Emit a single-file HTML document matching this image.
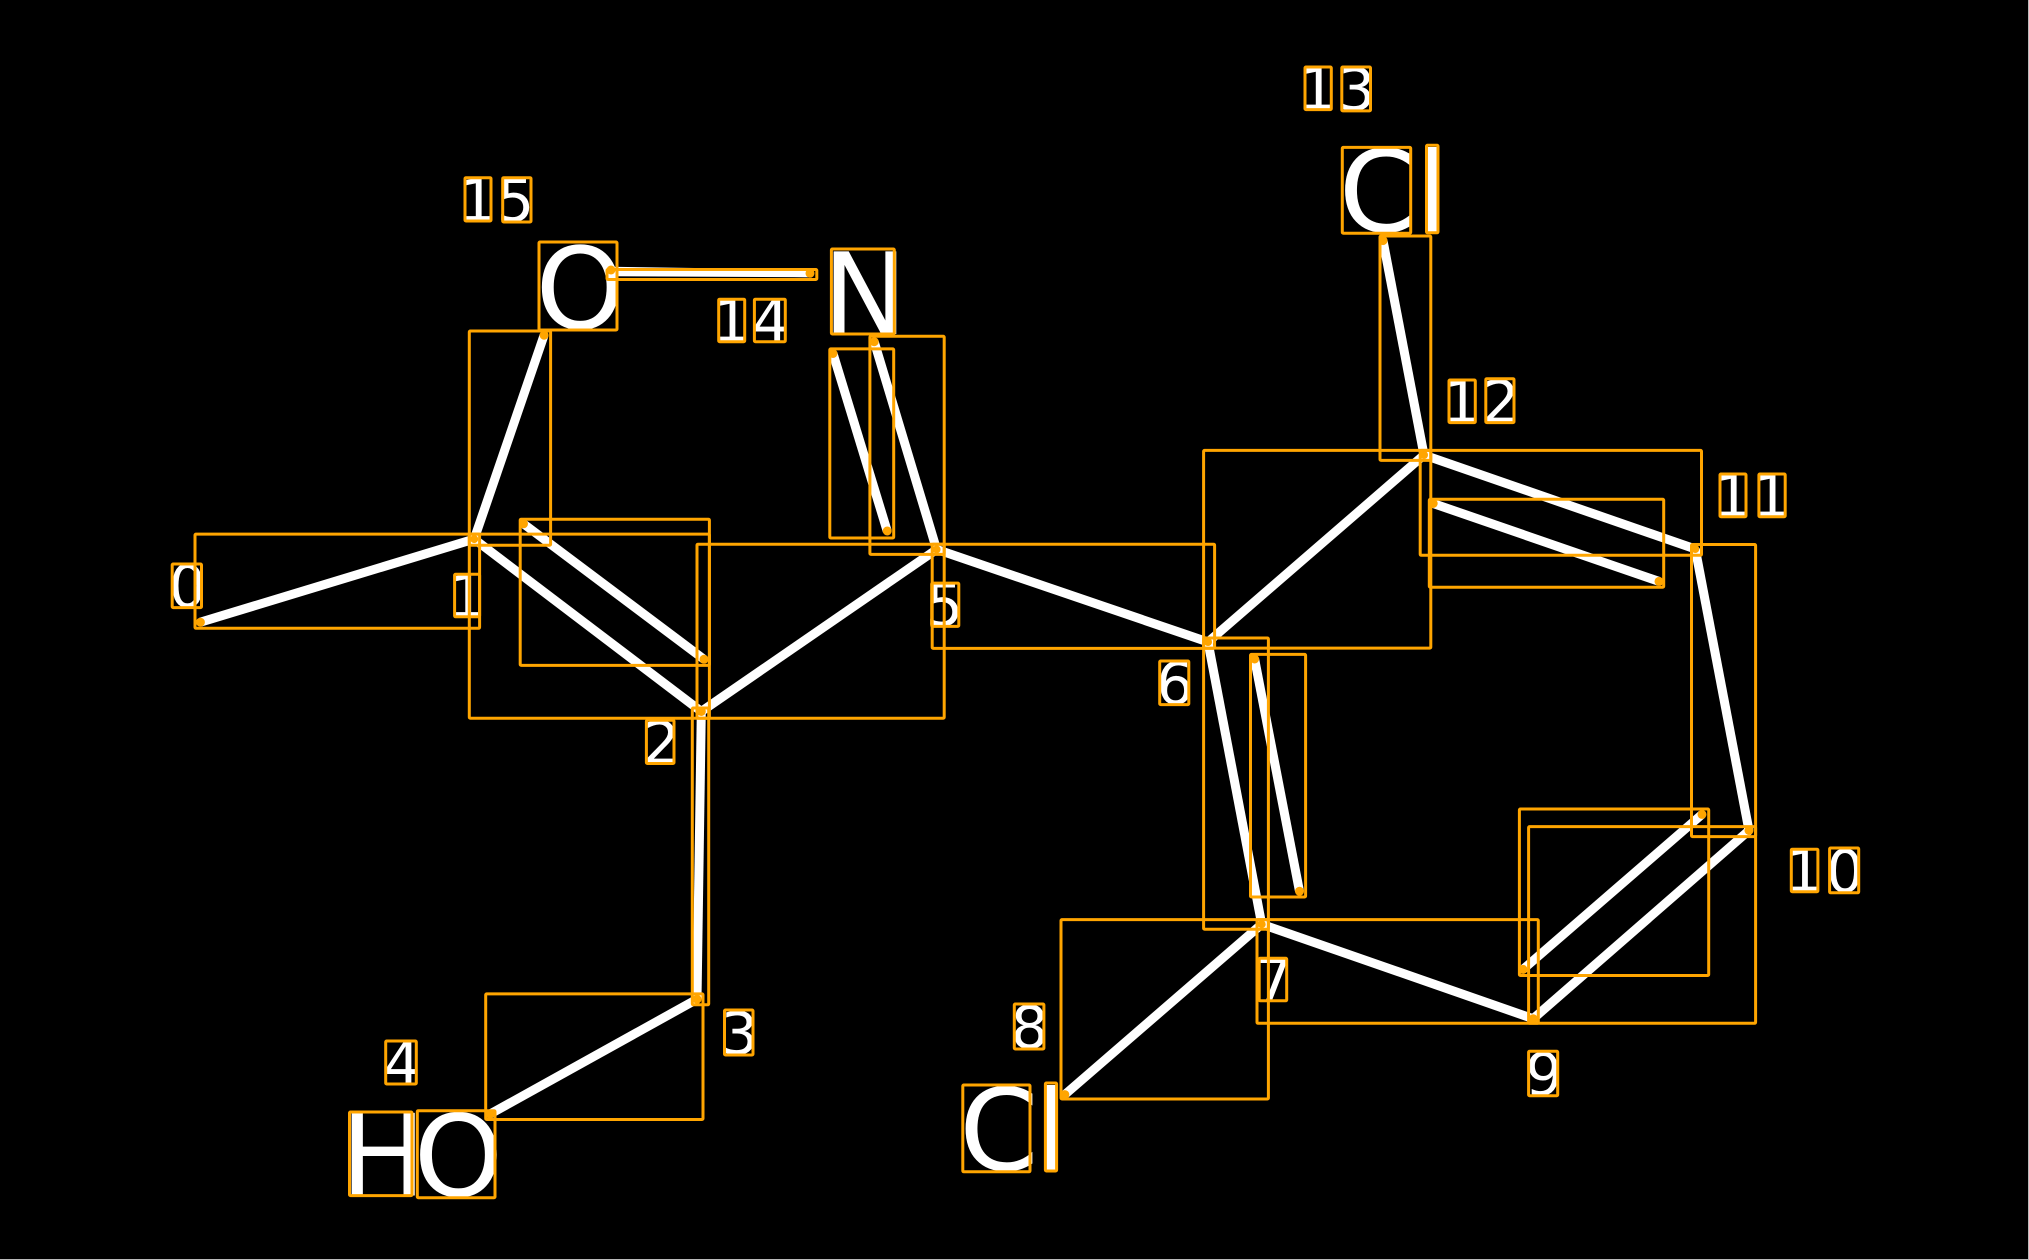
<!DOCTYPE html>
<html><head><meta charset="utf-8"><style>
html,body{margin:0;padding:0;background:#000}
svg{display:block}
text{font-family:"DejaVu Sans",sans-serif;fill:#fff}
.d{font-size:59px}.b{font-size:113.5px}
.w line{stroke:#fff;stroke-width:9}
.w line.t{stroke-width:7.5}
.r rect{fill:none;stroke:#FFA500;stroke-width:3;stroke-linejoin:round}
.c circle{fill:#FFA500}
</style></head><body>
<svg width="2029" height="1260" viewBox="0 0 2029 1260" xmlns="http://www.w3.org/2000/svg">
<rect width="2029" height="1260" fill="#000"/>
<path d="M2028.5 0V1259.5H0" fill="none" stroke="#bbb" stroke-width="1"/>
<g class="w">
<line x1="200.4" y1="622.2" x2="474.2" y2="539.1"/>
<line x1="474.2" y1="539.1" x2="701.3" y2="711.5"/>
<line x1="523.5" y1="523.8" x2="704" y2="659.3"/>
<line x1="474.2" y1="539.1" x2="544.1" y2="335.2"/>
<line x1="701.3" y1="711.5" x2="697" y2="999.2"/>
<line x1="697" y1="999.2" x2="489.8" y2="1114.2"/>
<line x1="701.3" y1="711.5" x2="936.6" y2="549.4"/>
<line x1="936.6" y1="549.4" x2="874.2" y2="341.7"/>
<line x1="887.2" y1="531" x2="833" y2="353.5"/>
<line x1="936.6" y1="549.4" x2="1208" y2="642"/>
<line class="t" x1="611" y1="270.5" x2="810" y2="273.5"/>
<line class="t" x1="611" y1="272.5" x2="810" y2="273.5"/>
<line x1="1208" y1="642" x2="1424" y2="455"/>
<line x1="1424" y1="455" x2="1383" y2="240.6"/>
<line x1="1424" y1="455" x2="1695.3" y2="549"/>
<line x1="1433.2" y1="503.5" x2="1659" y2="581.4"/>
<line x1="1695.3" y1="549" x2="1749" y2="830.5"/>
<line x1="1749" y1="830.5" x2="1533.2" y2="1018.7"/>
<line x1="1702" y1="814.4" x2="1523" y2="969.4"/>
<line x1="1533.2" y1="1018.7" x2="1261.7" y2="924.2"/>
<line x1="1261.7" y1="924.2" x2="1208" y2="642"/>
<line x1="1254.6" y1="659" x2="1299.5" y2="891.3"/>
<line x1="1261.7" y1="924.2" x2="1064.8" y2="1094.6"/>
</g>
<g>
<text class="d" x="168.8" y="606.8">0</text>
<text class="d" x="448.5" y="616.8">1</text>
<text class="d" x="642.5" y="763.5">2</text>
<text class="d" x="720.5" y="1054">3</text>
<text class="d" x="383.3" y="1084">4</text>
<text class="d" x="925.8" y="625.6">5</text>
<text class="d" x="1156.1" y="703.8">6</text>
<text class="d" x="1254.9" y="1000.8">7</text>
<text class="d" x="1010.8" y="1048.2">8</text>
<text class="d" x="1525.3" y="1095">9</text>
<text class="d" x="1785.3" y="891.7">1</text><text class="d" x="1826.2" y="892">0</text>
<text class="d" x="1714" y="516.7">1</text><text class="d" x="1752.9" y="516.7">1</text>
<text class="d" x="1443" y="422.6">1</text><text class="d" x="1482" y="422.6">2</text>
<text class="d" x="1299" y="109.6">1</text><text class="d" x="1337.8" y="110">3</text>
<text class="d" x="712.7" y="341.7">1</text><text class="d" x="752" y="341.7">4</text>
<text class="d" x="459" y="221">1</text><text class="d" x="496.8" y="221.2">5</text>
<text class="b" x="535.5" y="328.4">O</text>
<text class="b" x="822.5" y="334">N</text>
<text class="b" x="1338.8" y="231.6">C</text><text class="b" x="1416.6" y="232.8">l</text>
<text class="b" x="340.5" y="1195.6">H</text><text class="b" x="413.8" y="1196">O</text>
<text class="b" x="959.3" y="1170.2">C</text><text class="b" x="1035.5" y="1171">l</text>
</g>
<g class="r">
<rect x="172.2" y="564" width="29.3" height="43.6" rx="1"/>
<rect x="454.6" y="574.3" width="25" height="42.5" rx="1"/>
<rect x="646.4" y="720.3" width="27.6" height="43.2" rx="1"/>
<rect x="724.5" y="1010" width="28.5" height="45" rx="1"/>
<rect x="385.7" y="1041" width="30.6" height="43" rx="1"/>
<rect x="931.7" y="583.1" width="27.1" height="43.3" rx="1"/>
<rect x="1159.7" y="661" width="29.1" height="43.6" rx="1"/>
<rect x="1259.2" y="958.3" width="27.5" height="42.5" rx="1"/>
<rect x="1014.3" y="1004" width="29.6" height="45" rx="1"/>
<rect x="1528.6" y="1051.3" width="29.1" height="44.4" rx="1"/>
<rect x="1791.3" y="849.2" width="26.6" height="42.5" rx="1"/>
<rect x="1829.6" y="848" width="29.1" height="44.8" rx="1"/>
<rect x="1720" y="474" width="26" height="42.7" rx="1"/>
<rect x="1758.9" y="474" width="26.3" height="42.7" rx="1"/>
<rect x="1449" y="380" width="26.3" height="42.6" rx="1"/>
<rect x="1485.8" y="378.7" width="28.2" height="43.9" rx="1"/>
<rect x="1305" y="67" width="26.3" height="42.6" rx="1"/>
<rect x="1341.8" y="67" width="28.7" height="43.9" rx="1"/>
<rect x="718.7" y="299.2" width="26" height="42.5" rx="1"/>
<rect x="754.4" y="299.2" width="30.9" height="42.5" rx="1"/>
<rect x="465" y="177.7" width="26" height="43.3" rx="1"/>
<rect x="502.7" y="177.7" width="28.3" height="44.3" rx="1"/>
<rect x="539" y="242" width="78" height="88" rx="1"/>
<rect x="831.4" y="249" width="62.9" height="85" rx="1"/>
<rect x="1342.3" y="147.4" width="68.4" height="85.8" rx="1"/>
<rect x="1426.5" y="145.3" width="11.5" height="87.5" rx="1"/>
<rect x="349.5" y="1112" width="62.5" height="83.6" rx="1"/>
<rect x="417.3" y="1110.7" width="77.7" height="87" rx="1"/>
<rect x="962.8" y="1085" width="67.2" height="86.8" rx="1"/>
<rect x="1045.4" y="1083" width="11.2" height="88" rx="1"/>
<!-- bond boxes -->
<rect x="195" y="534.1" width="284.6" height="94.2" rx="1"/>
<rect x="469.3" y="331" width="81.3" height="214.2" rx="1"/>
<rect x="469.3" y="534.1" width="240.1" height="184.1" rx="1"/>
<rect x="520.2" y="519.2" width="189.2" height="146.2" rx="1"/>
<rect x="697" y="544.2" width="247.2" height="174" rx="1"/>
<rect x="869.9" y="336.3" width="74.3" height="218.1" rx="1"/>
<rect x="829.8" y="348.9" width="63.9" height="189.1" rx="1"/>
<rect x="607" y="269.5" width="209.8" height="10" rx="1"/>
<rect x="692.3" y="708" width="16.4" height="296.8" rx="1"/>
<rect x="485.7" y="993.9" width="217.3" height="125.6" rx="1"/>
<rect x="932.2" y="544.2" width="282.4" height="104.2" rx="1"/>
<rect x="1203.6" y="450.4" width="227.2" height="197.7" rx="1"/>
<rect x="1380" y="236" width="50.8" height="224.4" rx="1"/>
<rect x="1420.2" y="450.4" width="281.3" height="104.9" rx="1"/>
<rect x="1429.3" y="499.3" width="234.4" height="87.9" rx="1"/>
<rect x="1691.5" y="544.5" width="64.1" height="292.1" rx="1"/>
<rect x="1528.6" y="826.6" width="227" height="196.7" rx="1"/>
<rect x="1519.4" y="809" width="189.3" height="166.5" rx="1"/>
<rect x="1257" y="919.6" width="281.3" height="103.7" rx="1"/>
<rect x="1203.6" y="638" width="64.8" height="291.2" rx="1"/>
<rect x="1250.5" y="654.4" width="55.1" height="242.6" rx="1"/>
<rect x="1061" y="919.6" width="207.4" height="179.4" rx="1"/>
</g>
<g class="c">
<circle cx="200.4" cy="622.2" r="4.5"/>
<circle cx="474.2" cy="539.1" r="4"/>
<circle cx="544.1" cy="335.2" r="4.5"/>
<circle cx="523.5" cy="523.8" r="4.5"/>
<circle cx="704" cy="659.3" r="4.5"/>
<circle cx="701.3" cy="711.5" r="4.5"/>
<circle cx="697" cy="999.2" r="4.5"/>
<circle cx="489.8" cy="1114.2" r="4.5"/>
<circle cx="936.6" cy="549.4" r="4"/>
<circle cx="874.2" cy="341.7" r="4.5"/>
<circle cx="833" cy="353.5" r="4.5"/>
<circle cx="887.2" cy="531" r="4.5"/>
<circle cx="611" cy="270" r="4.5"/>
<circle cx="810" cy="273.3" r="4.5"/>
<circle cx="1208" cy="642" r="4"/>
<circle cx="1424" cy="455" r="4"/>
<circle cx="1383" cy="240.6" r="4.5"/>
<circle cx="1695.3" cy="549" r="4"/>
<circle cx="1433.2" cy="503.5" r="4.5"/>
<circle cx="1659" cy="581.4" r="4.5"/>
<circle cx="1749" cy="830.5" r="4.5"/>
<circle cx="1533.2" cy="1018.7" r="4.5"/>
<circle cx="1702" cy="814.4" r="4.5"/>
<circle cx="1523" cy="969.4" r="4.5"/>
<circle cx="1261.7" cy="924.2" r="4"/>
<circle cx="1254.6" cy="659" r="4.5"/>
<circle cx="1299.5" cy="891.3" r="4.5"/>
<circle cx="1064.8" cy="1094.6" r="4.5"/>
</g>
</svg>
</body></html>
